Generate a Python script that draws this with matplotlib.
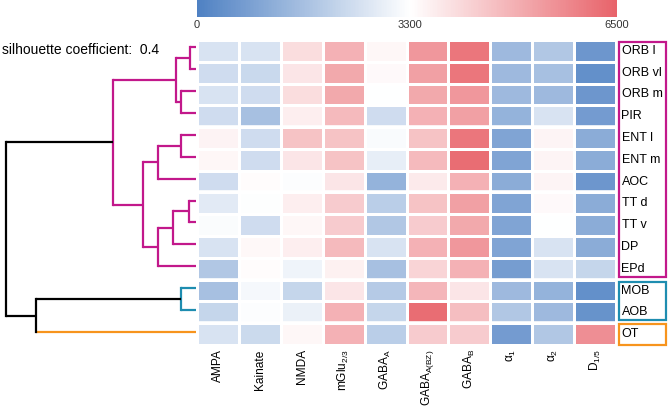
import matplotlib
matplotlib.use("Agg")
import matplotlib.pyplot as plt
import numpy as np
from matplotlib.colors import LinearSegmentedColormap, Normalize
from matplotlib.patches import Rectangle

plt.rcParams["font.family"] = ["Liberation Sans", "DejaVu Sans"]
plt.rcParams["mathtext.fontset"] = "custom"
plt.rcParams["mathtext.rm"] = "Liberation Sans"
plt.rcParams["mathtext.it"] = "Liberation Sans:italic"

regions = ["ORB l", "ORB vl", "ORB m", "PIR", "ENT l", "ENT m", "AOC",
           "TT d", "TT v", "DP", "EPd", "MOB", "AOB", "OT"]
receptors = ["AMPA", "Kainate", "NMDA", r"mGlu$_{2/3}$", r"GABA$_\mathrm{A}$",
             r"GABA$_\mathrm{A(BZ)}$", r"GABA$_\mathrm{B}$", r"α$_1$", r"α$_2$",
             r"D$_{1/5}$"]

# receptor densities per region (same order as regions)
ampa = [2574, 2393, 2574, 2393, 3542, 3476, 2393, 2756, 3223, 2574, 1848, 1667, 2211, 2574]
kainate = [2574, 2288, 2393, 1667, 2393, 2393, 3372, 3267, 2393, 3443, 3372, 3119, 3229, 2321]
nmda = [4004, 3828, 4004, 3652, 4532, 3828, 3229, 3652, 3476, 3652, 3009, 2211, 2937, 3476]
mglu23 = [4884, 5060, 5060, 4708, 4532, 4532, 3828, 4356, 4356, 4708, 3581, 3828, 4884, 4884]
gaba_a = [3476, 3405, 3300, 2393, 3190, 2866, 1304, 2030, 1848, 2574, 1667, 1920, 2211, 2030]
gaba_abz = [5412, 5236, 5060, 4884, 4532, 4708, 3724, 4532, 4356, 4884, 4180, 4780, 6292, 4356]
gaba_b = [6116, 6116, 5412, 5236, 6116, 6292, 4884, 5236, 5060, 5412, 4884, 3828, 4637, 4356]
alpha1 = [1485, 1485, 1485, 1304, 920, 920, 1122, 920, 920, 920, 759, 1485, 1848, 688]
alpha2 = [1848, 1667, 1485, 2574, 3509, 3509, 3509, 3405, 3300, 2574, 2574, 1304, 1485, 1848]
d15 = [578, 396, 578, 688, 1122, 1122, 578, 1122, 1122, 1122, 2211, 396, 468, 5588]

cbar_ticks = [0, 3300, 6500]
group_breaks = [4, 7, 11, 13]

# dendrogram: leaves 0..13 in display order, new nodes numbered from 14
link_left = [0, 2, 14, 4, 17, 7, 19, 20, 18, 16, 11, 24, 23]
link_right = [1, 3, 15, 5, 6, 8, 9, 10, 21, 22, 12, 13, 25]
link_height = [6, 15, 20, 15, 38, 7, 23, 38, 53, 83, 15, 160, 190]

MAG = "#C2188B"
TEAL = "#1E8DB0"
ORANGE = "#F7941D"
link_color = [MAG] * 10 + [TEAL, "black", "black"]
leaf_color = [MAG] * 11 + [TEAL] * 2 + [ORANGE]

W, H = 669, 407
fig = plt.figure(figsize=(W / 100, H / 100), dpi=100)


def px_axes(x0, y0, x1, y1):
    return fig.add_axes([x0 / W, 1 - y1 / H, (x1 - x0) / W, (y1 - y0) / H])


cmap = LinearSegmentedColormap.from_list(
    "bwr_soft", [(0, "#4F81C3"), (3300 / 6500, "#FFFFFF"), (1, "#E8636A")])
norm = Normalize(vmin=0, vmax=6500)

# heatmap
ax = px_axes(197, 40, 616, 345)
data = np.array([ampa, kainate, nmda, mglu23, gaba_a, gaba_abz, gaba_b,
                 alpha1, alpha2, d15]).T
mesh = ax.pcolormesh(np.arange(11), np.arange(15), data, cmap=cmap, norm=norm,
                     edgecolors="white", linewidth=0.8)
for b in group_breaks:
    ax.axhline(b, color="white", lw=2.6)
ax.set_xlim(0, 10)
ax.set_ylim(14, 0)
ax.set_xticks(np.arange(10) + 0.5, receptors, rotation=90, fontsize=8.6)
ax.set_yticks([])
ax.tick_params(length=0, pad=3)
for s in ax.spines.values():
    s.set_visible(False)

# colorbar
cax = px_axes(197, 0, 617, 17)
cb = fig.colorbar(mesh, cax=cax, orientation="horizontal", ticks=cbar_ticks)
cb.outline.set_visible(False)
cax.tick_params(length=0, labelsize=8, pad=2, colors="#333333")

# dendrogram
dax = px_axes(0, 40, 196, 345)
n = len(regions)
pos = list(range(n)) + [0.0] * len(link_height)
hgt = [0.0] * n + [0.0] * len(link_height)
for k, (l, r, h) in enumerate(zip(link_left, link_right, link_height)):
    node = n + k
    pos[node] = (pos[l] + pos[r]) / 2
    hgt[node] = h
    for child in (l, r):
        c = leaf_color[child] if child < n else link_color[k]
        dax.plot([hgt[child], h], [pos[child], pos[child]], color=c, lw=1.6,
                 solid_capstyle="butt")
    dax.plot([h, h], [pos[l], pos[r]], color=link_color[k], lw=1.6,
             solid_capstyle="projecting")
dax.set_xlim(196, 0)
dax.set_ylim(13.59, -0.32)
dax.axis("off")

fig.text(2 / W, 1 - 50 / H, "silhouette coefficient:  0.4", va="center",
         fontsize=10)

# region labels with cluster boxes
lab = px_axes(617, 40, 669, 345)
lab.set_xlim(0, 52)
lab.set_ylim(14, 0)
lab.axis("off")
for i, name in enumerate(regions):
    lab.text(4.5, i + 0.5, name, va="center", ha="left", fontsize=9)
for y0, y1, c in [(0.09, 10.87, MAG), (11.1, 12.84, TEAL), (13.03, 14.0, ORANGE)]:
    lab.add_patch(Rectangle((2, y0), 47.3, y1 - y0, fill=False, edgecolor=c,
                            lw=1.6, clip_on=False))

fig.savefig("out.png", dpi=100)
